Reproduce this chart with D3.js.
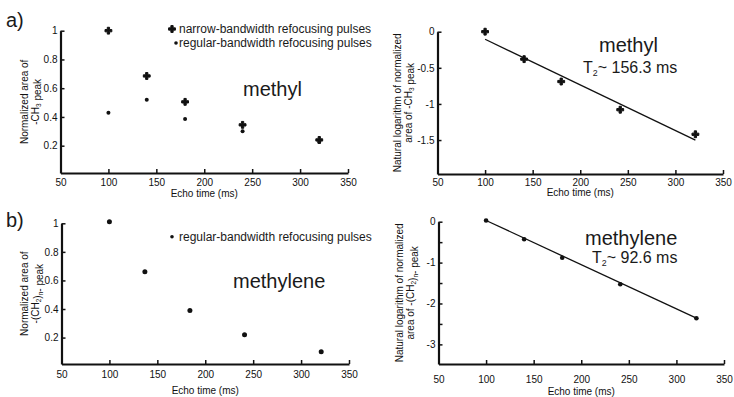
<!DOCTYPE html>
<html>
<head>
<meta charset="utf-8">
<script src="https://cdn.jsdelivr.net/npm/d3@7"></script>
<style>
  body { margin: 0; background: #fff; }
  svg { display: block; font-family: Arial, "Liberation Sans", Helvetica, sans-serif; }
  .axis path, .axis line { stroke: #111; }
  .axis text { fill: #111; font-size: 10px; font-family: Arial, "Liberation Sans", sans-serif; }
</style>
</head>
<body>
<script>
// echo times (ms)
const echoA = [100, 140, 180, 240, 320];
const narrowA = [1.0, 0.685, 0.505, 0.345, 0.24];
const regularA = [0.43, 0.52, 0.385, 0.30, 0.225];

const echoLnA = [100, 141, 180, 242, 321];
const lnNarrowA = [0.0, -0.38, -0.69, -1.08, -1.42];
const fitA = [[100, -0.105], [321, -1.5]];

const echoB = [100, 137, 184, 241, 321];
const regularB = [1.01, 0.66, 0.39, 0.22, 0.10];

const echoLnB = [100, 140, 180, 241, 321];
const lnRegularB = [0.03, -0.43, -0.88, -1.53, -2.36];
const fitB = [[100, 0.03], [321, -2.36]];

const xTicks = [50, 100, 150, 200, 250, 300, 350];
const yTicksA = [0.2, 0.4, 0.6, 0.8, 1];
const yTicksLnA = [-1.5, -1, -0.5, 0];
const yTicksB = [0.2, 0.4, 0.6, 0.8, 1];
const yTicksLnB = [-3, -2.5, -2, -1.5, -1, -0.5, 0];

const W = 734, H = 397;
const svg = d3.select('body').append('svg')
  .attr('width', W)
  .attr('height', H);

function panel(o) {
  const x = d3.scaleLinear().domain([50, 350]).range(o.xr);
  const y = d3.scaleLinear().domain(o.yd).range(o.yr);
  const g = svg.append('g');

  g.append('g').attr('class', 'axis')
    .attr('transform', `translate(0,${o.yr[0]})`)
    .call(d3.axisBottom(x).tickValues(xTicks).tickSizeInner(-4).tickSizeOuter(0).tickPadding(o.xpad))
    .call(s => s.select('.domain').attr('stroke-width', 2.2))
    .call(s => s.selectAll('.tick line').attr('stroke-width', 1.5));

  g.append('g').attr('class', 'axis')
    .attr('transform', `translate(${o.xr[0]},0)`)
    .call(d3.axisLeft(y).tickValues(o.yticks).tickSizeInner(-4).tickSizeOuter(0).tickPadding(3)
      .tickFormat(d => (o.labelEvery && !Number.isInteger(d)) ? '' : String(d)))
    .call(s => s.select('.domain').attr('stroke-width', 2.2))
    .call(s => s.selectAll('.tick line').attr('stroke-width', 1.5));

  g.append('text')
    .attr('x', (o.xr[0] + o.xr[1]) / 2)
    .attr('y', o.xlabY)
    .attr('text-anchor', 'middle')
    .attr('font-size', 10)
    .attr('fill', '#111')
    .text('Echo time (ms)');

  o.ylab.forEach((parts, i) => {
    const t = g.append('text')
      .attr('transform', `translate(${o.ylabX[i]},${(o.yr[0] + o.yr[1]) / 2}) rotate(-90)`)
      .attr('text-anchor', 'middle')
      .attr('font-size', 10)
      .attr('fill', '#111');
    parts.forEach(p => {
      if (p.sub) {
        t.append('tspan').attr('font-size', 6.5).attr('dy', 2).text(p.sub);
        t.append('tspan').attr('dy', -2).text('');
      } else {
        t.append('tspan').text(p.t);
      }
    });
  });
  return { x, y, g };
}

function plus(g, x, y, xs, ys) {
  g.selectAll(null)
    .data(xs.map((d, i) => [d, ys[i]]))
    .enter().append('path')
    .attr('transform', d => `translate(${x(d[0])},${y(d[1])})`)
    .attr('d', d3.symbol(d3.symbolCross, 26))
    .attr('fill', '#111')
    .attr('stroke', '#111')
    .attr('stroke-width', 1);
}

function dots(g, x, y, xs, ys, r) {
  g.selectAll(null)
    .data(xs.map((d, i) => [d, ys[i]]))
    .enter().append('circle')
    .attr('cx', d => x(d[0]))
    .attr('cy', d => y(d[1]))
    .attr('r', r)
    .attr('fill', '#111');
}

function fitLine(g, x, y, pts) {
  g.append('path')
    .datum(pts)
    .attr('d', d3.line().x(d => x(d[0])).y(d => y(d[1])))
    .attr('stroke', '#111')
    .attr('stroke-width', 1.3)
    .attr('fill', 'none');
}

function label(txt, x, y, size, sub, rest) {
  const t = svg.append('text')
    .attr('x', x).attr('y', y)
    .attr('font-size', size)
    .attr('fill', '#1a1a1a')
    .text(txt);
  if (sub) {
    t.append('tspan').attr('font-size', size * 0.55).attr('dy', 3).text(sub);
    t.append('tspan').attr('dy', -3).text(rest);
  }
  return t;
}

// a) left
const pa = panel({
  xr: [60.5, 348], yd: [0.01, 1], yr: [173, 30.7], yticks: yTicksA, xpad: 6,
  xlabY: 197, ylabX: [28, 39],
  ylab: [[{ t: 'Normalized area of' }], [{ t: '-CH' }, { sub: '3' }, { t: ' peak' }]]
});
plus(pa.g, pa.x, pa.y, echoA, narrowA);
dots(pa.g, pa.x, pa.y, echoA, regularA, 2);

// a) right
const pb = panel({
  xr: [437.5, 723], yd: [-1.97, 0], yr: [174, 31.7], yticks: yTicksLnA, xpad: 5,
  xlabY: 196, ylabX: [401, 412],
  ylab: [[{ t: 'Natural logarithm of normalized' }], [{ t: 'area of -CH' }, { sub: '3' }, { t: ' peak' }]]
});
fitLine(pb.g, pb.x, pb.y, fitA);
plus(pb.g, pb.x, pb.y, echoLnA, lnNarrowA);

// b) left
const pc = panel({
  xr: [61.5, 349], yd: [0.015, 1], yr: [364, 223.3], yticks: yTicksB, xpad: 7,
  xlabY: 394, ylabX: [28, 39],
  ylab: [[{ t: 'Normalized area of' }], [{ t: '-(CH' }, { sub: '2' }, { t: ')' }, { sub: 'n' }, { t: '- peak' }]]
});
dots(pc.g, pc.x, pc.y, echoB, regularB, 2.5);

// b) right
const pd = panel({
  xr: [438.5, 724], yd: [-3.48, 0], yr: [364, 221.7], yticks: yTicksLnB, xpad: 12, labelEvery: true,
  xlabY: 395, ylabX: [403, 414],
  ylab: [[{ t: 'Natural logarithm of normalized' }], [{ t: 'area of -(CH' }, { sub: '2' }, { t: ')' }, { sub: 'n' }, { t: '- peak' }]]
});
fitLine(pd.g, pd.x, pd.y, fitB);
dots(pd.g, pd.x, pd.y, echoLnB, lnRegularB, 2.3);

// legends
svg.append('path').attr('transform', 'translate(172,29)')
  .attr('d', d3.symbol(d3.symbolCross, 26)).attr('fill', '#111').attr('stroke', '#111').attr('stroke-width', 1);
label('narrow-bandwidth refocusing pulses', 179, 33, 12);
svg.append('circle').attr('cx', 176).attr('cy', 43).attr('r', 1.8).attr('fill', '#111');
label('regular-bandwidth refocusing pulses', 179, 47, 12);
svg.append('circle').attr('cx', 172).attr('cy', 236.7).attr('r', 1.8).attr('fill', '#111');
label('regular-bandwidth refocusing pulses', 179, 241, 12);

// annotations
label('a)', 6, 27, 20);
label('b)', 6, 227, 20);
label('methyl', 243, 96, 20);
label('methyl', 599, 52, 20);
label('T', 583, 73, 16, '2', '~ 156.3 ms');
label('methylene', 233, 288, 20);
label('methylene', 585, 245, 20);
label('T', 592, 263, 16, '2', '~ 92.6 ms');
</script>
</body>
</html>
